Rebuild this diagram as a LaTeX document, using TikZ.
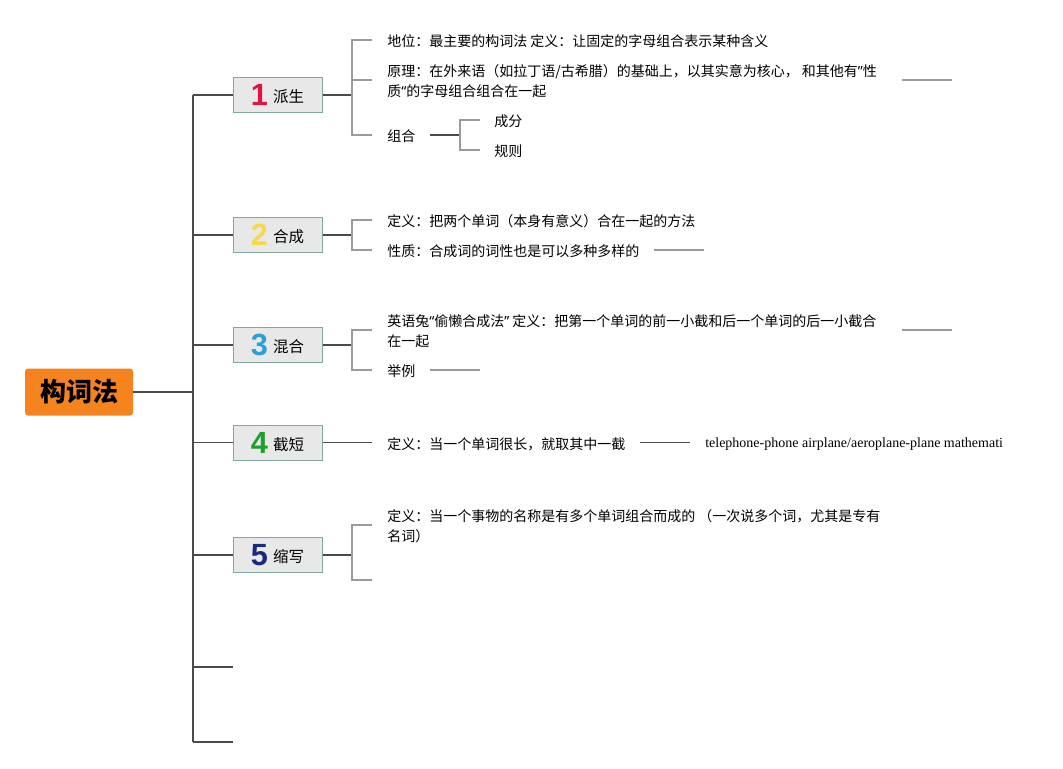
\documentclass[tikz,border=0pt]{standalone}
\usepackage{fontspec}
\setmainfont{Noto Sans CJK SC}
\newfontfamily\numfont{Liberation Sans}
\newfontfamily\latq{Noto Sans}
\newfontfamily\serifen{Liberation Serif}
\definecolor{rootorange}{HTML}{F5841F}
\definecolor{boxfill}{HTML}{E8E8E8}
\definecolor{boxborder}{HTML}{7FA89E}
\definecolor{darkline}{HTML}{4A4A4A}
\definecolor{grayline}{HTML}{9A9A9A}
\definecolor{nred}{HTML}{E0143C}
\definecolor{nyellow}{HTML}{F5D94A}
\definecolor{nblue}{HTML}{2A9FD8}
\definecolor{ngreen}{HTML}{1E9E2E}
\definecolor{nnavy}{HTML}{1A2A7A}
\newcommand{\numb}[3]{\raisebox{-1pt}{\fontsize{23}{23}\selectfont\numfont\bfseries\color{#1}#2}\hspace{4pt}\raisebox{1.2pt}{#3}}
\newcommand{\q}[1]{{\latq #1}}
\begin{document}
\begin{tikzpicture}[x=0.75pt,y=-0.75pt,
  rootbox/.style={fill=rootorange, rounded corners=2.25pt, minimum width=81pt, minimum height=35.25pt, inner sep=0pt, font=\fontsize{19.5}{22}\selectfont\bfseries},
  lbox/.style={draw=boxborder, fill=boxfill, line width=0.75pt, minimum width=66.75pt, minimum height=26.25pt, inner sep=0pt, font=\fontsize{11.6}{13}\selectfont},
  txt/.style={anchor=west, inner sep=0pt, align=left, font=\fontsize{10.5}{15}\selectfont},
  trunk/.style={draw=darkline, line width=1pt},
  conn/.style={draw=darkline, line width=1pt},
  brk/.style={draw=grayline, line width=1pt}]
\useasboundingbox (0,0) rectangle (1063,768);

% root
\node[rootbox] (root) at (79,392) {构词法};

% trunk coordinates
\coordinate (tr) at (193,392);
\coordinate (t1) at (193,95);
\coordinate (t7) at (193,742);
\coordinate (e6) at (233,667);
\coordinate (e7) at (233,742);

% level-1 boxes
\node[lbox] (b1) at (277.5,95) {\numb{nred}{1}{派生}};
\node[lbox] (b2) at (277.5,235) {\numb{nyellow}{2}{合成}};
\node[lbox] (b3) at (277.5,345) {\numb{nblue}{3}{混合}};
\node[lbox] (b4) at (277.5,442.5) {\numb{ngreen}{4}{截短}};
\node[lbox] (b5) at (277.5,555) {\numb{nnavy}{5}{缩写}};

\draw[trunk] (root.east) -- (tr);
\draw[trunk] (t1) -- (t7);
\foreach \b in {b1,b2,b3,b4,b5} {\draw[trunk] (t1 |- \b.west) -- (\b.west);}
\draw[trunk] (t1 |- e6) -- (e6);
\draw[trunk] (t7) -- (e7);

% ---- branch 1
\coordinate (k1) at (352,95);
\coordinate (a11) at (372,40);
\coordinate (a12) at (372,80);
\coordinate (a13) at (372,135);
\draw[conn] (b1.east) -- (k1);
\draw[brk] (a11) -| (k1) |- (a13);
\draw[brk] (k1 |- a12) -- (a12);
\node[txt] (t11) at (387,41) {地位：最主要的构词法 定义：让固定的字母组合表示某种含义};
\node[txt] (t12) at (387,81) {原理：在外来语（如拉丁语/古希腊）的基础上，以其实意为核心， 和其他有\q{”}性\\质\q{“}的字母组合组合在一起};
\node[txt] (t13) at (387,136) {组合};
\coordinate (l12a) at (902,80);
\coordinate (l12b) at (952,80);
\draw[brk] (l12a) -- (l12b);
\coordinate (z0) at (430,135);
\coordinate (zk) at (460,135);
\coordinate (z1) at (480,120);
\coordinate (z2) at (480,150);
\draw[conn] (z0) -- (zk);
\draw[brk] (z1) -| (zk) |- (z2);
\node[txt] (t131) at (494,121) {成分};
\node[txt] (t132) at (494,151) {规则};

% ---- branch 2
\coordinate (k2) at (352,235);
\coordinate (a21) at (372,220);
\coordinate (a22) at (372,250);
\draw[conn] (b2.east) -- (k2);
\draw[brk] (a21) -| (k2) |- (a22);
\node[txt] (t21) at (387,221) {定义：把两个单词（本身有意义）合在一起的方法};
\node[txt] (t22) at (387,251) {性质：合成词的词性也是可以多种多样的};
\coordinate (l22a) at (654,250);
\coordinate (l22b) at (704,250);
\draw[brk] (l22a) -- (l22b);

% ---- branch 3
\coordinate (k3) at (352,345);
\coordinate (a31) at (372,330);
\coordinate (a32) at (372,370);
\draw[conn] (b3.east) -- (k3);
\draw[brk] (a31) -| (k3) |- (a32);
\node[txt] (t31) at (387,331) {英语兔\q{“}偷懒合成法\q{”} 定义：把第一个单词的前一小截和后一个单词的后一小截合\\在一起};
\node[txt] (t32) at (387,371) {举例};
\coordinate (l31a) at (902,330);
\coordinate (l31b) at (952,330);
\draw[brk] (l31a) -- (l31b);
\coordinate (l32a) at (430,370);
\coordinate (l32b) at (480,370);
\draw[brk] (l32a) -- (l32b);

% ---- branch 4
\coordinate (a41) at (372,442.5);
\draw[conn] (b4.east) -- (a41);
\node[txt] (t41) at (387,444) {定义：当一个单词很长，就取其中一截};
\coordinate (l41a) at (640,442.5);
\coordinate (l41b) at (690,442.5);
\draw[conn] (l41a) -- (l41b);
\node[txt, font=\fontsize{10.5}{13}\selectfont\serifen] (t42) at (705,444) {telephone-phone airplane/aeroplane-plane mathemati};

% ---- branch 5
\coordinate (k5) at (352,555);
\coordinate (a51) at (372,525);
\coordinate (a52) at (372,580);
\draw[conn] (b5.east) -- (k5);
\draw[brk] (a51) -| (k5) |- (a52);
\node[txt] (t51) at (387,526) {定义：当一个事物的名称是有多个单词组合而成的 （一次说多个词，尤其是专有\\名词）};
\end{tikzpicture}
\end{document}
